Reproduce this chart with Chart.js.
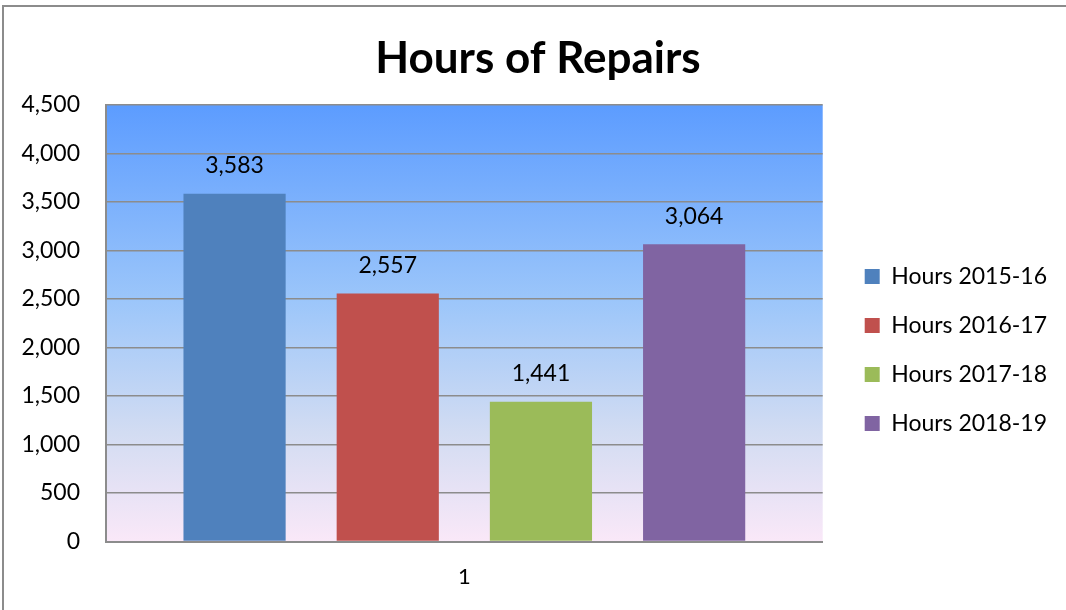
<!DOCTYPE html>
<html>
<head>
<meta charset="utf-8">
<script src="https://cdn.jsdelivr.net/npm/chart.js@4"></script>
<style>
html,body{margin:0;padding:0;background:#fff;overflow:hidden;}
#frame{position:absolute;left:2px;top:5px;width:1100px;height:700px;border-left:2px solid #8c8c8c;border-top:2px solid #8c8c8c;box-sizing:border-box;}
#wrap{position:absolute;left:0;top:0;width:1066px;height:610px;}
</style>
</head>
<body>
<div id="frame"></div>
<div id="wrap"><canvas id="c" width="1066" height="610"></canvas></div>
<script>
const categories = ["1"];
const seriesNames = ["Hours 2015-16","Hours 2016-17","Hours 2017-18","Hours 2018-19"];
const hours2015 = [3583];
const hours2016 = [2557];
const hours2017 = [1441];
const hours2018 = [3064];
const seriesColors = ["#4F81BD","#C0504D","#9BBB59","#8064A2"];
const yTicks = [0,500,1000,1500,2000,2500,3000,3500,4000,4500];

const FONT = "Lato, 'Open Sans', sans-serif";

const bgPlugin = {
  id:'bg',
  beforeDraw(chart){
    const {ctx, chartArea:a} = chart;
    const g = ctx.createLinearGradient(0,a.top,0,a.bottom);
    g.addColorStop(0,'#5C9CFF');
    g.addColorStop(0.45,'#9CC6FA');
    g.addColorStop(0.75,'#D2DCF2');
    g.addColorStop(1,'#FAE8F8');
    ctx.save();
    ctx.fillStyle=g;
    ctx.fillRect(a.left,a.top,a.right-a.left,a.bottom-a.top);
    ctx.restore();
  }
};
const labelPlugin = {
  id:'vlabels',
  afterDatasetsDraw(chart){
    const ctx = chart.ctx;
    ctx.save();
    ctx.font = "23px " + FONT;
    ctx.fillStyle = "#000";
    ctx.textAlign = "center";
    ctx.textBaseline = "middle";
    chart.data.datasets.forEach((ds,i)=>{
      const meta = chart.getDatasetMeta(i);
      meta.data.forEach((el,j)=>{
        ctx.fillText(ds.data[j].toLocaleString('en-US'), el.x, el.y - 28);
      });
    });
    ctx.restore();
  }
};
// widen the legend gap and place legend/title like the reference
const placePlugin = {
  id:'place',
  beforeLayout(chart){
    const lg = chart.legend;
    if (lg && !lg._patched){
      lg._patched = true;
      const of = lg.fit.bind(lg);
      lg.fit = function(){ of(); this.width += 25; };
      const od = lg.draw.bind(lg);
      lg.draw = function(){ const c=chart.ctx; c.save(); c.translate(16,44); od(); c.restore(); };
    }
    const t = chart.titleBlock;
    if (t && !t._patched){
      t._patched = true;
      const td = t.draw.bind(t);
      t.draw = function(){ const c=chart.ctx; c.save(); c.translate(5,0); td(); c.restore(); };
    }
  }
};

const allSeries = [hours2015,hours2016,hours2017,hours2018];
new Chart(document.getElementById('c'),{
  type:'bar',
  data:{
    labels:categories,
    datasets: allSeries.map((d,i)=>({
      label:seriesNames[i],
      data:d,
      backgroundColor:seriesColors[i],
      borderWidth:0,
      barPercentage:0.667,
      categoryPercentage:0.855
    }))
  },
  options:{
    responsive:false,
    animation:false,
    layout:{padding:{left:0,right:0,top:0,bottom:-2}},
    plugins:{
      title:{display:true,text:"Hours of Repairs",color:"#000",
        font:{family:FONT,size:44,weight:'bold'},padding:{top:32,bottom:20}},
      legend:{position:'right',align:'center',
        labels:{color:'#000',font:{family:FONT,size:23},boxWidth:15,boxHeight:15,padding:26}},
      tooltip:{enabled:false}
    },
    scales:{
      x:{
        grid:{display:false,drawTicks:false},
        border:{color:'#8c8c8c',width:2},
        ticks:{color:'#000',font:{family:FONT,size:22},padding:22}
      },
      y:{
        min:0,max:4500,
        afterBuildTicks(axis){axis.ticks = yTicks.map(v=>({value:v}));},
        grid:{color:'#8c8c8c',lineWidth:1.5,drawTicks:false},
        border:{color:'#8c8c8c',width:2},
        ticks:{color:'#000',font:{family:FONT,size:23},padding:26,
          callback:v=>v.toLocaleString('en-US')},
        afterFit(axis){axis.width = 106;}
      }
    }
  },
  plugins:[placePlugin,bgPlugin,labelPlugin]
});
</script>
</body>
</html>
